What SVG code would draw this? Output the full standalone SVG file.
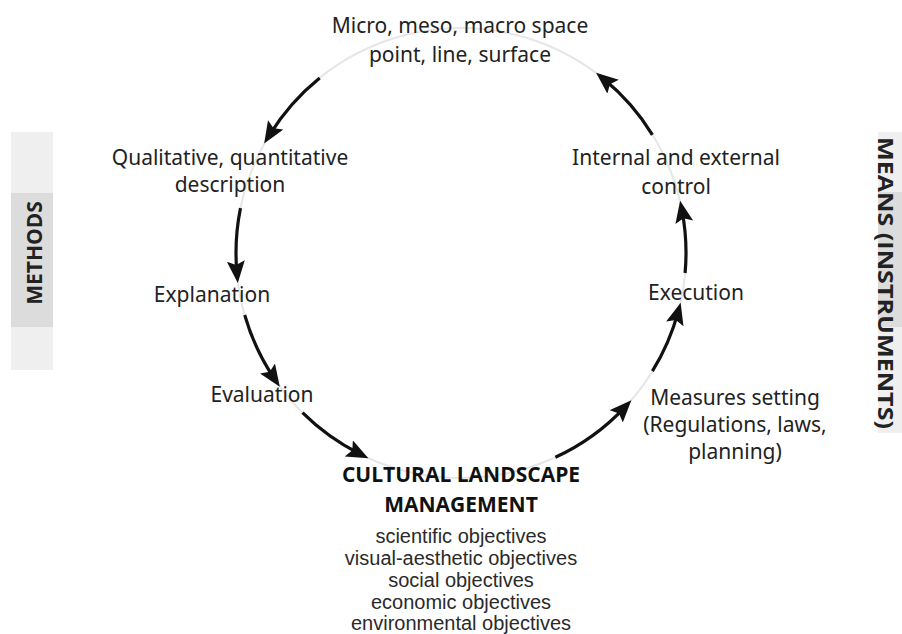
<svg xmlns="http://www.w3.org/2000/svg" width="902" height="634" viewBox="0 0 902 634">
<defs>
<marker id="ah" markerUnits="userSpaceOnUse" markerWidth="24" markerHeight="20" refX="12" refY="9" orient="auto">
<path d="M0,0 L22,9 L0,18 L4,9 z" fill="#111"/>
</marker>
<style>
.lbl{font-family:"Noto Sans","Open Sans",sans-serif;font-size:21px;fill:#222;text-anchor:middle}
.ttl{font-family:"Open Sans","Noto Sans",sans-serif;font-size:21px;font-weight:bold;fill:#111;text-anchor:middle}
.obj{font-family:"Liberation Sans",Arial,sans-serif;font-size:20px;fill:#2a2a2a;text-anchor:middle}
.side{font-family:"Open Sans","Noto Sans",sans-serif;font-weight:bold;fill:#222;text-anchor:middle}
.arc{fill:none;stroke:#111;stroke-width:3.2;marker-end:url(#ah)}
</style>
</defs>
<rect width="902" height="634" fill="#fff"/>
<g id="methods-bar">
<rect x="11" y="132" width="42" height="238" fill="#efefef"/>
<rect x="11" y="193" width="42" height="134" fill="#dcdcdc"/>
<text class="side" font-size="21" transform="translate(42,253) rotate(-90)">METHODS</text>
</g>
<g id="means-bar">
<rect x="878" y="132" width="24" height="301" fill="#efefef"/>
<rect x="878" y="192" width="24" height="135" fill="#dcdcdc"/>
<text class="side" font-size="21" textLength="292" lengthAdjust="spacingAndGlyphs" transform="translate(878,283) rotate(90)">MEANS (INSTRUMENTS)</text>
</g>
<circle cx="461" cy="253" r="225" fill="none" stroke="#e6e6e6" stroke-width="2"/>
<g id="connectors">
<path class="arc" d="M319.7,77.9 A225,225 0 0 0 269.4,135.1"/>
<path class="arc" d="M240.5,208.1 A225,225 0 0 0 236.9,273.0"/>
<path class="arc" d="M244.7,315.0 A225,225 0 0 0 274.2,378.5"/>
<path class="arc" d="M302.5,412.7 A225,225 0 0 0 359.5,453.8"/>
<path class="arc" d="M555.4,457.3 A225,225 0 0 0 624.5,407.6"/>
<path class="arc" d="M652.4,371.2 A225,225 0 0 0 678.0,312.4"/>
<path class="arc" d="M685.1,273.0 A225,225 0 0 0 682.0,210.5"/>
<path class="arc" d="M652.4,134.8 A225,225 0 0 0 603.8,79.1"/>
</g>
<g id="space">
<text class="lbl" x="460" y="33">Micro, meso, macro space</text>
<text class="lbl" x="460" y="62">point, line, surface</text>
</g>
<g id="description">
<text class="lbl" x="230" y="165">Qualitative, quantitative</text>
<text class="lbl" x="230" y="192">description</text>
</g>
<g id="explanation">
<text class="lbl" x="212" y="302">Explanation</text>
</g>
<g id="evaluation">
<text class="lbl" x="262" y="402">Evaluation</text>
</g>
<g id="management">
<text class="ttl" x="461" y="482">CULTURAL LANDSCAPE</text>
<text class="ttl" x="461" y="512">MANAGEMENT</text>
<text class="obj" x="461" y="543">scientific objectives</text>
<text class="obj" x="461" y="565">visual-aesthetic objectives</text>
<text class="obj" x="461" y="587">social objectives</text>
<text class="obj" x="461" y="609">economic objectives</text>
<text class="obj" x="461" y="630">environmental objectives</text>
</g>
<g id="measures">
<text class="lbl" x="735" y="405">Measures setting</text>
<text class="lbl" x="735" y="432">(Regulations, laws,</text>
<text class="lbl" x="735" y="459">planning)</text>
</g>
<g id="execution">
<text class="lbl" x="696" y="300">Execution</text>
</g>
<g id="control">
<text class="lbl" x="676" y="165">Internal and external</text>
<text class="lbl" x="676" y="194">control</text>
</g>
</svg>
